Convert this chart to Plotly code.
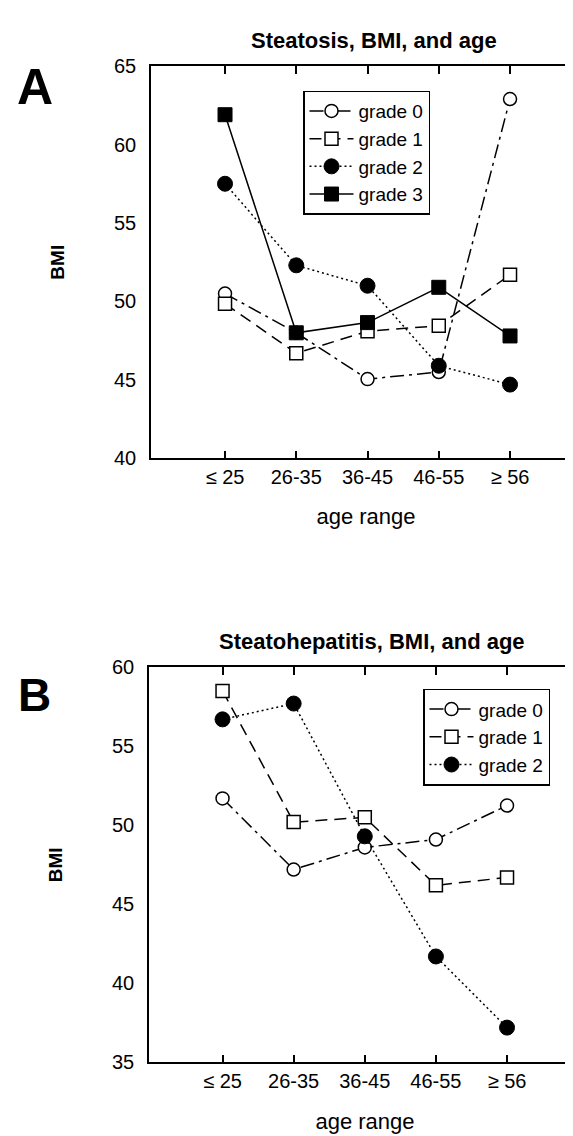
import plotly.graph_objects as go

age_ranges = ["≤ 25", "26-35", "36-45", "46-55", "≥ 56"]

# Panel A: Steatosis
a_grade0 = [50.5, 48.0, 45.05, 45.5, 62.9]
a_grade1 = [49.85, 46.7, 48.1, 48.45, 51.7]
a_grade2 = [57.5, 52.3, 51.0, 45.9, 44.7]
a_grade3 = [61.9, 48.0, 48.65, 50.9, 47.8]

# Panel B: Steatohepatitis
b_grade0 = [51.7, 47.2, 48.6, 49.1, 51.25]
b_grade1 = [58.5, 50.2, 50.5, 46.2, 46.7]
b_grade2 = [56.7, 57.7, 49.3, 41.7, 37.2]

series_names = ["grade 0", "grade 1", "grade 2", "grade 3"]

FONT = "Liberation Sans, Arial, Helvetica, sans-serif"

styles = {
    "grade 0": dict(line=dict(color="black", width=1.5, dash="14px,5px,3px,5px"),
                    marker=dict(symbol="circle", size=13, color="white",
                                line=dict(color="black", width=1.5))),
    "grade 1": dict(line=dict(color="black", width=1.5, dash="12px,7px"),
                    marker=dict(symbol="square", size=13, color="white",
                                line=dict(color="black", width=1.5))),
    "grade 2": dict(line=dict(color="black", width=1.5, dash="2px,3px"),
                    marker=dict(symbol="circle", size=15, color="black",
                                line=dict(color="black", width=1))),
    "grade 3": dict(line=dict(color="black", width=1.5),
                    marker=dict(symbol="square", size=14, color="black",
                                line=dict(color="black", width=1))),
}

fig = go.Figure()

for name, vals in zip(series_names, [a_grade0, a_grade1, a_grade2, a_grade3]):
    fig.add_trace(go.Scatter(x=age_ranges, y=vals, name=name, mode="lines+markers",
                             xaxis="x", yaxis="y", legend="legend", **styles[name]))

for name, vals in zip(series_names[:3], [b_grade0, b_grade1, b_grade2]):
    fig.add_trace(go.Scatter(x=age_ranges, y=vals, name=name, mode="lines+markers",
                             xaxis="x2", yaxis="y2", legend="legend2", **styles[name]))

W, H = 573, 1136

def xdom(l, r):
    return [l / W, min(r / W, 1.0)]

def ydom(top, bottom):
    return [1 - bottom / H, 1 - top / H]

tickfont = dict(family=FONT, size=20, color="black")

xaxis_common = dict(type="category", showline=True, linecolor="black", linewidth=1.5,
                    mirror="ticks", ticks="inside", ticklen=8, tickwidth=1.5,
                    tickcolor="black", showgrid=False, zeroline=False, tickfont=tickfont,
                    title=dict(text="age range", font=dict(family=FONT, size=22, color="black"),
                               standoff=22))

yaxis_common = dict(showline=True, linecolor="black", linewidth=1.5, mirror=False,
                    ticks="", showgrid=False, zeroline=False, tickfont=tickfont,
                    dtick=5, ticklabelstandoff=9,
                    title=dict(text="<b>BMI</b>", font=dict(family=FONT, size=19, color="black"),
                               standoff=44))

yaxis_right = dict(side="right", showline=False, ticks="inside", ticklen=8, tickwidth=1.5,
                   tickcolor="black", showticklabels=False, showgrid=False, zeroline=False,
                   dtick=5)

A_L, A_T, A_B = 143, 48, 448
B_L, B_T, B_B = 141, 661, 1064

fig.update_layout(
    width=W, height=H,
    margin=dict(l=0, r=0, t=0, b=0),
    paper_bgcolor="white", plot_bgcolor="white",
    font=dict(family=FONT, color="black"),
    showlegend=True,
    xaxis=dict(domain=xdom(A_L, 573), anchor="y", range=[-1.039, 4.996], **xaxis_common),
    yaxis=dict(domain=ydom(A_T, A_B), anchor="x", range=[40, 65], **yaxis_common),
    yaxis3=dict(overlaying="y", anchor="x", range=[40, 65], **yaxis_right),
    xaxis2=dict(domain=xdom(B_L, 573), anchor="y2", range=[-1.034, 5.04], **xaxis_common),
    yaxis2=dict(domain=ydom(B_T, B_B), anchor="x2", range=[35, 60], **yaxis_common),
    yaxis4=dict(overlaying="y2", anchor="x2", range=[35, 60], **yaxis_right),
    legend=dict(x=295 / W, y=1 - 73 / H, xanchor="left", yanchor="top",
                bgcolor="white", bordercolor="black", borderwidth=1.5, itemwidth=44,
                font=dict(family=FONT, size=19, color="black")),
    legend2=dict(x=415 / W, y=1 - 683 / H, xanchor="left", yanchor="top",
                 bgcolor="white", bordercolor="black", borderwidth=1.5, itemwidth=44,
                 font=dict(family=FONT, size=19, color="black")),
    annotations=[
        dict(text="<b>Steatosis, BMI, and age</b>", x=366 / W, y=1 - 22 / H,
             xref="paper", yref="paper", xanchor="center", yanchor="middle",
             showarrow=False, font=dict(family=FONT, size=22, color="black")),
        dict(text="<b>Steatohepatitis, BMI, and age</b>", x=364 / W, y=1 - 635 / H,
             xref="paper", yref="paper", xanchor="center", yanchor="middle",
             showarrow=False, font=dict(family=FONT, size=22, color="black")),
        dict(text="<b>A</b>", x=27 / W, y=1 - 69 / H, xref="paper", yref="paper",
             xanchor="center", yanchor="middle",
             showarrow=False, font=dict(family=FONT, size=50, color="black")),
        dict(text="<b>B</b>", x=26 / W, y=1 - 689 / H, xref="paper", yref="paper",
             xanchor="center", yanchor="middle",
             showarrow=False, font=dict(family=FONT, size=46, color="black")),
    ],
)

fig.write_html("out.html")
